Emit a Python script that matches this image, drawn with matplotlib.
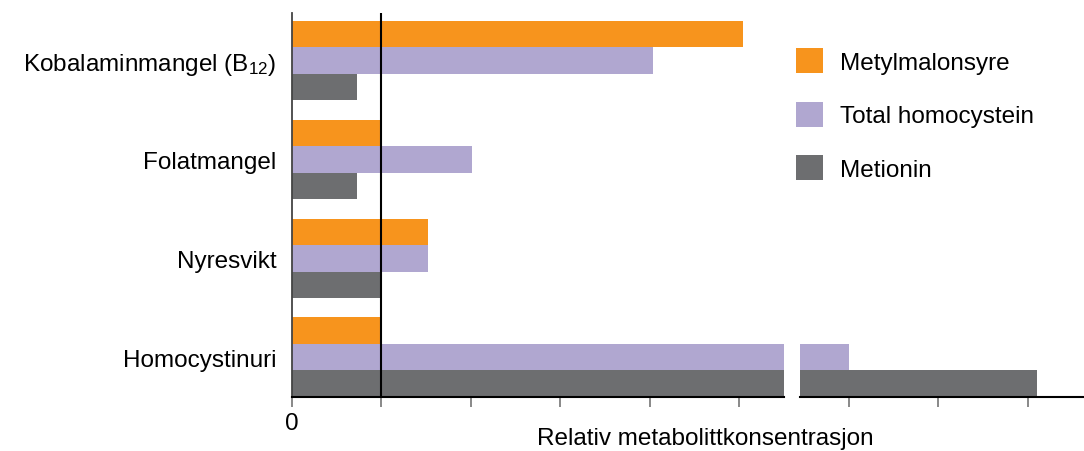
import matplotlib
matplotlib.use('Agg')
import matplotlib.pyplot as plt
from matplotlib.patches import Patch

plt.rcParams['font.family'] = ['Liberation Sans', 'DejaVu Sans']
plt.rcParams['mathtext.fontset'] = 'custom'
plt.rcParams['mathtext.rm'] = 'Liberation Sans'
plt.rcParams['mathtext.it'] = 'Liberation Sans'

categories = ['Kobalaminmangel (B$_{12}$)', 'Folatmangel', 'Nyresvikt', 'Homocystinuri']
series = ['Metylmalonsyre', 'Total homocystein', 'Metionin']
colors = ['#F7941D', '#B0A7D0', '#6D6E70']
# values on the relative scale (axis is broken after 5.5)
mma = [5.04, 1.0, 1.52, 1.0]
thcy = [4.03, 2.01, 1.52, 6.0]
met = [0.73, 0.73, 1.0, 8.1]
values = [mma, thcy, met]

W, H = 1084, 452
fs = 17.5
fig = plt.figure(figsize=(W / 100, H / 100), dpi=100)
bot = 1 - 398 / H
top = 1 - 14 / H
ax1 = fig.add_axes([292 / W, bot, (784 - 292) / W, top - bot])
ax2 = fig.add_axes([800 / W, bot, (W - 800) / W, top - bot])

ypos = [3, 2, 1, 0]
bh = 0.268
for ax in (ax1, ax2):
    for i, vals in enumerate(values):
        y = [p + (1 - i) * bh for p in ypos]
        ax.barh(y, vals, height=bh, color=colors[i], edgecolor='none', zorder=2)
    ax.set_ylim(-1.5 * bh, 3.48)
    for s in ('top', 'right'):
        ax.spines[s].set_visible(False)
    ax.spines['bottom'].set_color('black')
    ax.spines['bottom'].set_linewidth(1.5)
    ax.tick_params(axis='x', length=7, width=1.4, color='#888888', labelsize=fs)

ax1.set_xlim(0, 5.5)
ax1.set_xticks(range(0, 6))
ax1.set_xticklabels(['0', '', '', '', '', ''])
ax1.axvline(1, color='black', lw=1.5, zorder=3)
ax1.set_yticks(ypos)
ax1.set_yticklabels(categories, fontsize=fs)
ax1.tick_params(axis='y', length=0, pad=11)
ax1.tick_params(axis='x', pad=4)
ax1.spines['left'].set_color('#444444')
ax1.spines['left'].set_linewidth(1.3)

ax2.set_xlim(5.45, 8.63)
ax2.set_xticks([6, 7, 8])
ax2.set_xticklabels([])
ax2.set_yticks([])
ax2.spines['left'].set_visible(False)

handles = [Patch(facecolor=c, edgecolor='none') for c in colors]
fig.legend(handles, series, loc='upper left', bbox_to_anchor=(796 / W, 1 - 49 / H),
           frameon=False, fontsize=fs, handlelength=1.1, handleheight=1.2,
           labelspacing=1.15, handletextpad=0.72, borderpad=0, borderaxespad=0)

fig.text(705 / W, 1 - 428 / H, 'Relativ metabolittkonsentrasjon', ha='center', va='top', fontsize=fs)

fig.savefig('out.png', dpi=100)
